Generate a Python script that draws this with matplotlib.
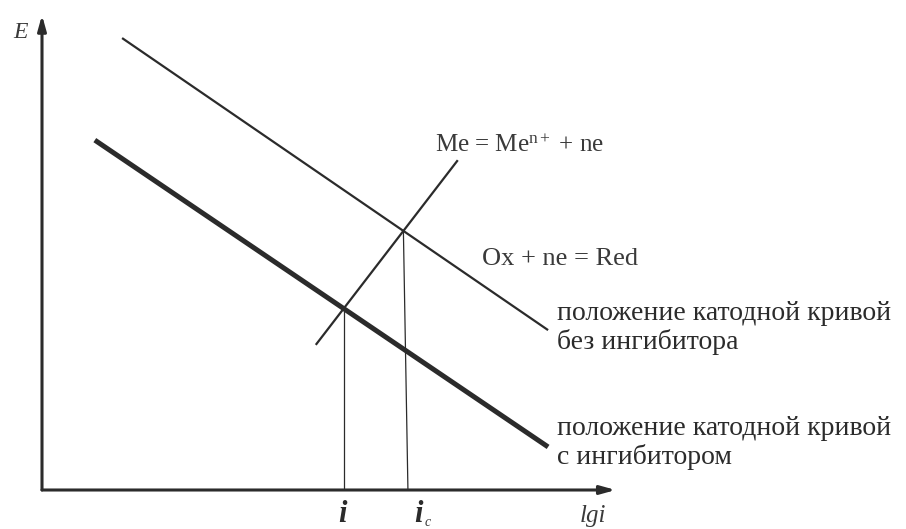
import numpy as np
import matplotlib
matplotlib.use("Agg")
import matplotlib.pyplot as plt

plt.rcParams.update({
    "font.family": ["Liberation Serif", "DejaVu Serif"],
    "mathtext.fontset": "custom",
    "mathtext.rm": "Liberation Serif",
    "mathtext.it": "Liberation Serif:italic",
})

# Polarization lines, (lg i, E) end points in axis units
cathode_free = [(1.41, 7.66), (8.91, 2.71)]     # without inhibitor
cathode_inhib = [(0.93, 5.93), (8.91, 0.73)]    # with inhibitor
anode = [(4.82, 2.46), (7.32, 5.59)]

x_max, y_max = 10.0, 8.0

label_anode = r"Me = Me$^{\mathrm{n+}}$ + ne"
label_redox = "Ox + ne = Red"
label_free = "положение катодной кривой\nбез ингибитора"
label_inhib = "положение катодной кривой\nс ингибитором"

INK = "#2b2b2b"
TXT = "#3a3a3a"


def line_coef(p):
    (x0, y0), (x1, y1) = p
    k = (y1 - y0) / (x1 - x0)
    return k, y0 - k * x0


def crossing(p, q):
    k1, b1 = line_coef(p)
    k2, b2 = line_coef(q)
    x = (b2 - b1) / (k1 - k2)
    return x, k1 * x + b1


fig = plt.figure(figsize=(9.06, 5.29), dpi=100)
ax = fig.add_axes([42 / 906, 39 / 529, 568 / 906, 472 / 529])
ax.set_xlim(0, x_max)
ax.set_ylim(0, y_max)
ax.axis("off")

# axes with arrow heads
arrow = dict(arrowstyle="-|>,head_length=0.9,head_width=0.25", color=INK, lw=2.2,
             shrinkA=0, shrinkB=0)
ax.annotate("", xy=(0, y_max + 0.05), xytext=(0, 0), arrowprops=arrow, annotation_clip=False)
ax.annotate("", xy=(x_max + 0.1, 0), xytext=(0, 0), arrowprops=arrow, annotation_clip=False)

for seg, lw in [(cathode_free, 1.6), (cathode_inhib, 3.6), (anode, 1.6)]:
    xs, ys = zip(*seg)
    ax.plot(xs, ys, color=INK, lw=lw, solid_capstyle="butt", clip_on=False)

# corrosion currents: drop lines from the crossings
x_i, y_i = crossing(anode, cathode_inhib)
x_c, y_c = crossing(anode, cathode_free)
ax.plot([x_i, x_i], [y_i, 0], color=INK, lw=0.9)
ax.plot([x_c, x_c + 0.08], [y_c, 0], color=INK, lw=0.9)

ax.text(-0.38, 7.76, "E", fontsize=17, style="italic", color=TXT, ha="center", va="center")
ax.text(9.70, -0.44, "lgi", fontsize=18, style="italic", color=TXT, ha="center", va="center")
ax.text(x_i - 0.03, -0.42, "i", fontsize=22, style="italic", weight="bold", color=INK,
        ha="center", va="center")
ax.text(x_c + 0.27, -0.42, "i", fontsize=22, style="italic", weight="bold", color=INK,
        ha="center", va="center")
ax.text(x_c + 0.38, -0.55, "c", fontsize=10, style="italic", color=TXT,
        ha="left", va="center")

ax.text(6.92, 5.83, label_anode, fontsize=18, color=TXT, ha="left", va="center")
ax.text(7.75, 3.92, label_redox, fontsize=19, color=TXT, ha="left", va="center")
ax.text(9.07, 2.75, label_free, fontsize=20, color=INK, ha="left", va="center",
        linespacing=1.15)
ax.text(9.07, 0.805, label_inhib, fontsize=20, color=INK, ha="left", va="center",
        linespacing=1.15)

fig.savefig("out.png", dpi=100)
